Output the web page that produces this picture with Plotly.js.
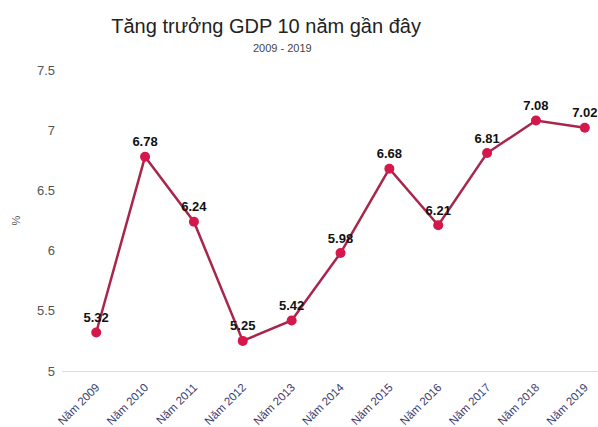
<!DOCTYPE html>
<html>
<head>
<meta charset="utf-8">
<script src="https://cdn.plot.ly/plotly-3.0.1.min.js"></script>
<style>html,body{margin:0;padding:0;background:#fff;}#chart{width:598px;height:427px;}</style>
</head>
<body>
<div id="chart"></div>
<script>
const categories = ["Năm 2009","Năm 2010","Năm 2011","Năm 2012","Năm 2013","Năm 2014","Năm 2015","Năm 2016","Năm 2017","Năm 2018","Năm 2019"];
const gdpGrowth = [5.32, 6.78, 6.24, 5.25, 5.42, 5.98, 6.68, 6.21, 6.81, 7.08, 7.02];
const yTicks = [5, 5.5, 6, 6.5, 7, 7.5];
const yTickLabels = ["5", "5.5", "6", "6.5", "7", "7.5"];

const trace = {
  x: categories,
  y: gdpGrowth,
  type: 'scatter',
  mode: 'lines+markers+text',
  text: gdpGrowth.map(v => v.toFixed(2)),
  textposition: 'top center',
  textfont: {family: 'Liberation Sans, Arial, sans-serif', size: 13, color: '#111', weight: 'bold'},
  line: {color: '#a8264c', width: 2.5},
  marker: {color: '#d4184b', size: 10},
  cliponaxis: false,
  hoverinfo: 'none'
};

const layout = {
  width: 598, height: 427,
  margin: {l: 62, r: 0, t: 70, b: 56},
  paper_bgcolor: '#fff', plot_bgcolor: '#fff',
  showlegend: false,
  font: {family: 'Liberation Sans, Arial, sans-serif'},
  title: {
    text: 'Tăng trưởng GDP 10 năm gần đây',
    font: {size: 20, color: '#222'},
    x: 0.445, xanchor: 'center', y: 0.94, yanchor: 'middle'
  },
  annotations: [{
    text: '2009 - 2019', xref: 'paper', yref: 'paper',
    x: 0.412, y: 1, xanchor: 'center', yanchor: 'bottom', yshift: 14,
    showarrow: false, font: {size: 11, color: '#444'}
  }],
  xaxis: {
    type: 'category',
    range: [-0.7, 10.27],
    tickangle: -45,
    tickfont: {size: 11.5, color: '#3b3b6b'},
    showgrid: false, zeroline: false,
    showline: true, linecolor: '#ddd', linewidth: 1,
    ticks: 'outside', ticklen: 4, tickcolor: 'rgba(0,0,0,0)',
    automargin: false
  },
  yaxis: {
    range: [5, 7.5],
    tickvals: yTicks, ticktext: yTickLabels,
    tickfont: {size: 13, color: '#555'},
    showgrid: false, zeroline: false, showline: false,
    ticks: '', ticklabelstandoff: 6,
    title: {text: '%', font: {size: 11, color: '#555'}, standoff: 14},
    automargin: false
  }
};

Plotly.newPlot('chart', [trace], layout, {displayModeBar: false, staticPlot: true});
</script>
</body>
</html>
